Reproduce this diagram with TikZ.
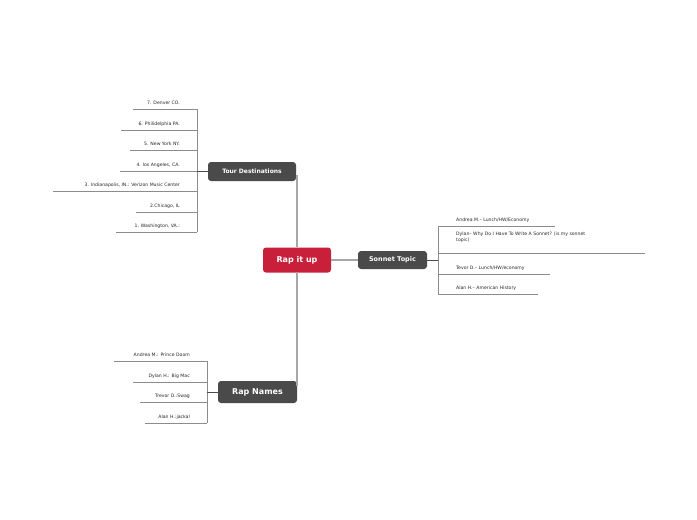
\documentclass[tikz,border=0pt]{standalone}
\usepackage{fontspec}
\setmainfont{DejaVu Sans}
\begin{document}
\begin{tikzpicture}[x=1pt,y=-1pt,
 box/.style={fill=#1,rounded corners=3pt,text=white,font=\bfseries,inner sep=0pt},
 leaf/.style={font=\fontsize{4.6}{5.6}\selectfont,text=black!85,inner sep=0pt},
 ln/.style={draw=black!45,line width=0.5pt},
 conn/.style={draw=black!35,line width=1.2pt}]
\useasboundingbox[fill=white] (0,0) rectangle (697,520);
\definecolor{dk}{HTML}{4A4A4A}\definecolor{rd}{HTML}{C8203A}
\node[box=rd,minimum width=68pt,minimum height=25pt,font=\bfseries\fontsize{8}{9}\selectfont] (c) at (297,260) {Rap it up};
\node[box=dk,minimum width=88pt,minimum height=19pt,font=\bfseries\fontsize{6}{7}\selectfont] (t) at (252,171.5) {Tour Destinations};
\node[box=dk,minimum width=69pt,minimum height=18pt,font=\bfseries\fontsize{6.5}{7.5}\selectfont] (s) at (392.5,260) {Sonnet Topic};
\node[box=dk,minimum width=79pt,minimum height=22pt,font=\bfseries\fontsize{8}{9}\selectfont] (r) at (257.5,392) {Rap Names};
\coordinate (ct) at (297,247);\coordinate (cb) at (297,272);
\draw[conn] (ct) -- (297,176) -- (t.east|-0,176);
\draw[conn] (cb) -- (297,386);
\draw[conn] (c.east) -- (s.west);
% tour
\coordinate (ta) at (197,109);\coordinate (tb) at (197,232);
\draw[ln] (ta)--(tb); \draw[draw=dk,line width=1pt] (t.west)--(197,171.5);
\foreach \y/\l/\txt in {109/133/{7. Denver CO.},130/121/{6. Philidelphia PA.},150/130/{5. New York NY.},171/120/{4. los Angeles, CA.},191/53/{3. Indianapolis, IN.: Verizon Music Center},212/136/{2.Chicago, IL},232/116/{1. Washington, VA.:}}{
 \draw[ln] (\l,\y)--(197,\y);
 \node[leaf,anchor=base east] at (180,\y-4.5) {\txt};}
% sonnet
\draw[ln] (438,226)--(438,294); \draw[draw=dk,line width=1pt] (s.east)--(438,260);
\foreach \y/\r/\txt in {226/555/{Andrea M.-- Lunch/HW/Economy},274/550/{Tevor D.-- Lunch/HW/economy},294/538/{Alan H.-- American History}}{
 \draw[ln] (438,\y)--(\r,\y);
 \node[leaf,anchor=base west] at (456,\y-5) {\txt};}
\draw[ln] (438,253)--(645,253);
\node[leaf,anchor=base west,align=left] at (456,241) {Dylan-- Why Do I Have To Write A Sonnet? (is my sonnet\\topic)};
% rap names
\draw[ln] (207,361)--(207,423); \draw[draw=dk,line width=1pt] (r.west)--(207,392);
\foreach \y/\l/\txt in {361/114/{Andrea M.: Prince Doom},382/133/{Dylan H.: Big Mac},402/140/{Trevor D.:Swag},423/145/{Alan H.:jackal}}{
 \draw[ln] (\l,\y)--(207,\y);
 \node[leaf,anchor=base east] at (190,\y-5) {\txt};}
\end{tikzpicture}
\end{document}
